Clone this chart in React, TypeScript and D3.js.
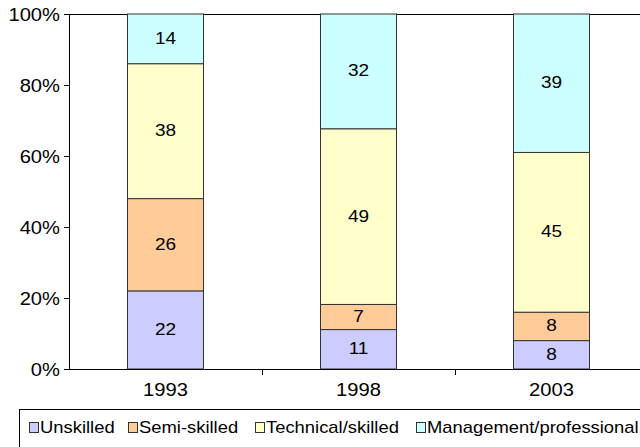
import React, { useEffect, useRef } from "react";
import * as d3 from "d3";

// values (shares, per year)
const years = ["1993", "1998", "2003"];
const series = ["Unskilled", "Semi-skilled", "Technical/skilled", "Management/professional"];
const unskilled = [22, 11, 8];
const semiSkilled = [26, 7, 8];
const technical = [38, 49, 45];
const management = [14, 32, 39];
const yTicks = [0, 0.2, 0.4, 0.6, 0.8, 1];

const colors = ["#CCCCFF", "#FFCC99", "#FFFFCC", "#CCFFFF"];
const legendX = [29, 128, 255, 416];
const FONT = "Arial, 'Liberation Sans', sans-serif";
const SX = 1.12; // the original text is a bit wide

export default function App() {
    const svgRef = useRef<SVGSVGElement>(null);

    useEffect(() => {
        const width = 640;
        const height = 447;
        const left = 69, right = 648, top = 14, bottom = 369;

        const svg = d3.select(svgRef.current);
        svg.selectAll("*").remove();
        svg.attr("width", width).attr("height", height);

        const rows = years.map((y, i) => ({
            year: y,
            [series[0]]: unskilled[i],
            [series[1]]: semiSkilled[i],
            [series[2]]: technical[i],
            [series[3]]: management[i],
        }));

        const stacked = d3.stack<any>().keys(series).offset(d3.stackOffsetExpand)(rows);

        const x = d3.scaleBand().domain(years).range([left, right]).padding(0);
        const barW = x.bandwidth() * 0.394;
        const y = d3.scaleLinear().domain([0, 1]).range([bottom, top]);

        // top border of the plot area
        svg.append("line")
            .attr("x1", left).attr("x2", right)
            .attr("y1", top + 0.5).attr("y2", top + 0.5)
            .attr("stroke", "#000");

        // bars
        stacked.forEach((layer, si) => {
            const g = svg.append("g");
            layer.forEach((d, i) => {
                const x0 = Math.round(x(years[i])! + x.bandwidth() / 2 - barW / 2) + 0.5;
                const y0 = y(d[1]);
                const y1 = y(d[0]);
                g.append("rect")
                    .attr("x", x0)
                    .attr("y", y0)
                    .attr("width", Math.round(barW))
                    .attr("height", y1 - y0)
                    .attr("fill", colors[si])
                    .attr("stroke", "#333")
                    .attr("stroke-width", 1);
                const v = (d.data as any)[series[si]];
                g.append("text")
                    .attr("transform", `translate(${x0 + barW / 2},${(y0 + y1) / 2 + 5}) scale(${SX},1)`)
                    .attr("text-anchor", "middle")
                    .attr("font-family", FONT)
                    .attr("font-size", 17)
                    .attr("fill", "#000")
                    .text(v);
            });
        });

        // y axis
        const yAxis = svg.append("g");
        yAxis.append("line")
            .attr("x1", left + 0.5).attr("x2", left + 0.5)
            .attr("y1", top).attr("y2", bottom)
            .attr("stroke", "#000");
        yTicks.forEach(t => {
            const ty = Math.round(y(t)) + 0.5;
            yAxis.append("line")
                .attr("x1", left - 5).attr("x2", left)
                .attr("y1", ty).attr("y2", ty)
                .attr("stroke", "#000");
            yAxis.append("text")
                .attr("transform", `translate(60,${ty + 6.5}) scale(${SX},1)`)
                .attr("text-anchor", "end")
                .attr("font-family", FONT)
                .attr("font-size", 18)
                .attr("fill", "#000")
                .text(d3.format(".0%")(t));
        });

        // x axis
        const xAxis = svg.append("g");
        xAxis.append("line")
            .attr("x1", left).attr("x2", right)
            .attr("y1", bottom + 0.5).attr("y2", bottom + 0.5)
            .attr("stroke", "#000");
        years.forEach((yr, i) => {
            const bx = Math.round(x(yr)! + x.bandwidth()) + 0.5;
            xAxis.append("line")
                .attr("x1", bx).attr("x2", bx)
                .attr("y1", bottom).attr("y2", bottom + 6)
                .attr("stroke", "#000");
            xAxis.append("text")
                .attr("transform", `translate(${x(yr)! + x.bandwidth() / 2},396) scale(${SX},1)`)
                .attr("text-anchor", "middle")
                .attr("font-family", FONT)
                .attr("font-size", 18)
                .attr("fill", "#000")
                .text(yr);
        });

        // legend
        const legend = svg.append("g");
        legend.append("rect")
            .attr("x", 19.5).attr("y", 409.5)
            .attr("width", 700).attr("height", 80)
            .attr("fill", "#fff")
            .attr("stroke", "#000");
        series.forEach((s, i) => {
            legend.append("rect")
                .attr("x", legendX[i] + 0.5).attr("y", 422.5)
                .attr("width", 9).attr("height", 10)
                .attr("fill", colors[i])
                .attr("stroke", "#333");
            legend.append("text")
                .attr("transform", `translate(${legendX[i] + 11},433) scale(1.15,1)`)
                .attr("font-family", FONT)
                .attr("font-size", 16)
                .attr("fill", "#000")
                .text(s);
        });
    }, []);

    return (
        <svg ref={svgRef} style={{ position: "absolute", left: 0, top: 0, background: "#fff" }}></svg>
    );
}
